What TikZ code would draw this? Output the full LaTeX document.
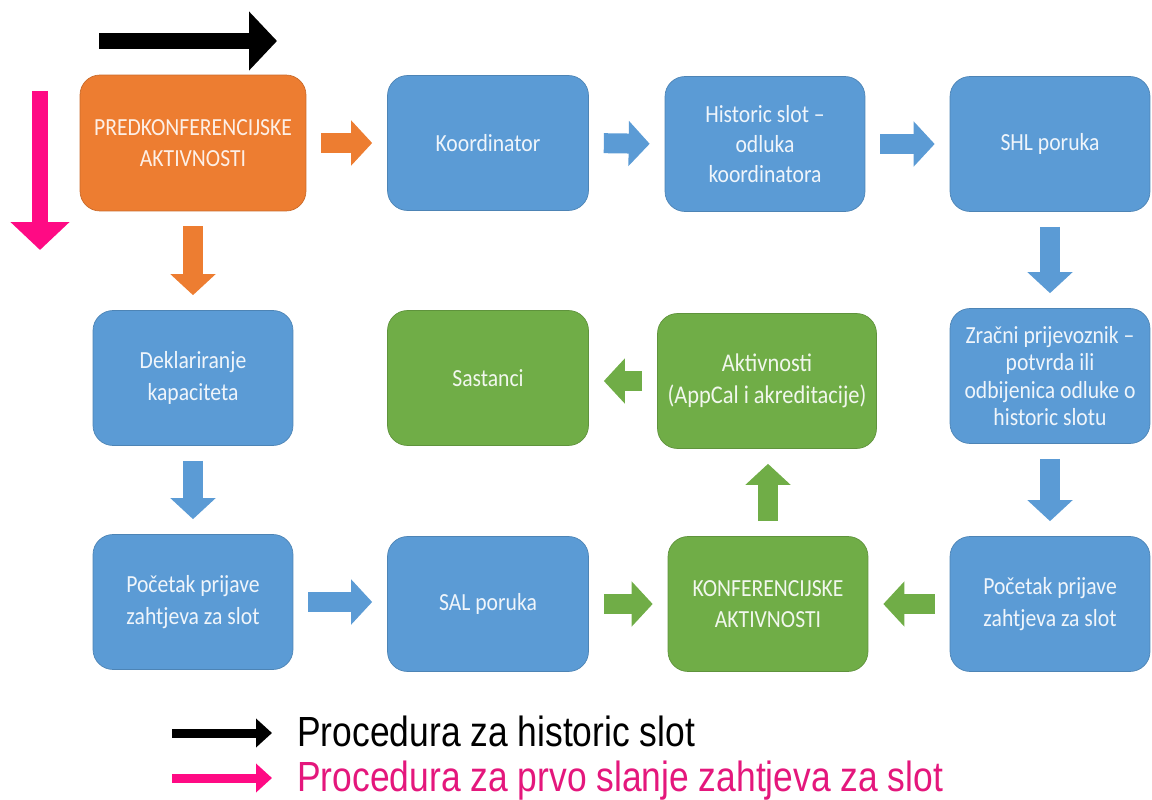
\documentclass[tikz,border=0pt]{standalone}
\usepackage{fontspec}
\setmainfont{Liberation Sans}
\newfontfamily\boxfont[FakeStretch=0.88]{Carlito}
\newfontfamily\legfont[FakeStretch=0.84]{Liberation Sans}
\usetikzlibrary{arrows.meta}
\definecolor{bblue}{HTML}{5B9BD5}
\definecolor{borange}{HTML}{ED7D31}
\definecolor{bgreen}{HTML}{70AD47}
\definecolor{hpink}{HTML}{FF0A84}
\definecolor{tpink}{HTML}{E4177C}
\begin{document}
\begin{tikzpicture}[x=0.02cm,y=-0.02cm,
  procbox/.style={rounded corners=0.4cm, minimum width=4cm, minimum height=2.7cm,
    inner sep=0pt, align=center, line width=0.4pt,
    font=\boxfont\fontsize{14}{18}\selectfont},
  bluebox/.style={procbox, fill=bblue, draw=bblue!85!black, text=white!90!bblue},
  orangebox/.style={procbox, fill=borange, draw=borange!85!black, text=white!88!borange},
  greenbox/.style={procbox, fill=bgreen, draw=bgreen!85!black, text=white!90!bgreen},
  blockarrow/.style={line width=0.4cm, shorten <=0.3cm, shorten >=0.3cm,
    -{Triangle[width=0.88cm,length=0.42cm]}},
  bigarrow/.style={line width=0.32cm, -{Triangle[width=1.15cm,length=0.56cm]}},
  legarrow/.style={line width=0.18cm, shorten >=0.5cm, -{Triangle[width=0.56cm,length=0.32cm]}},
  legtext/.style={anchor=base west, inner sep=0pt, font=\legfont\fontsize{24}{28}\selectfont}
]
\useasboundingbox (0,0) rectangle (1152,800);

% row 1
\node[orangebox, minimum width=4.52cm, minimum height=2.72cm] (pre) at (193,143)
  {PREDKONFERENCIJSKE\\AKTIVNOSTI};
\node[bluebox, minimum width=4.02cm] (koord) at (488,143) {Koordinator};
\node[bluebox, font=\boxfont\fontsize{14}{17}\selectfont] (hist) at (765,144) {Historic slot –\\odluka\\koordinatora};
\node[bluebox] (shl) at (1050,144) {SHL poruka};
% row 2
\node[bluebox] (dek) at (193,378) {Deklariranje\\kapaciteta};
\node[greenbox, minimum width=4.02cm] (sas) at (488,378) {Sastanci};
\node[greenbox, minimum width=4.38cm, font=\boxfont\fontsize{14.5}{18}\selectfont] (akt) at (767,381) {Aktivnosti\\(AppCal i akreditacije)};
\node[bluebox, font=\boxfont\fontsize{14}{15.5}\selectfont] (zr) at (1050,376)
  {Zračni prijevoznik –\\potvrda ili\\odbijenica odluke o\\historic slotu};
% row 3
\node[bluebox] (poc1) at (193,602) {Početak prijave\\zahtjeva za slot};
\node[bluebox, minimum width=4.02cm] (sal) at (488,604) {SAL poruka};
\node[greenbox] (konf) at (768,604) {KONFERENCIJSKE\\AKTIVNOSTI};
\node[bluebox] (poc2) at (1050,604) {Početak prijave\\zahtjeva za slot};

% connectors
\draw[blockarrow, borange] (pre.east) -- (koord.west);
\draw[blockarrow, borange] (pre.south) -- (dek.north);
\draw[blockarrow, bblue] (koord.east) -- (hist.west);
\draw[blockarrow, bblue] (hist.east) -- (shl.west);
\draw[blockarrow, bblue] (shl.south) -- (zr.north);
\draw[blockarrow, bblue] (zr.south) -- (poc2.north);
\draw[blockarrow, bblue] (dek.south) -- (poc1.north);
\draw[blockarrow, bblue] (poc1.east) -- (poc1.east -| sal.west);
\draw[blockarrow, bgreen] (sal.east) -- (konf.west);
\draw[blockarrow, bgreen] (poc2.west) -- (konf.east);
\draw[blockarrow, bgreen] (konf.north) -- (konf.north |- akt.south);
\draw[blockarrow, bgreen] (akt.west) -- (akt.west -| sas.east);

% big procedure arrows
\coordinate (hs) at (99,41);
\coordinate (he) at (277,41);
\draw[bigarrow, black] (hs) -- (he);
\coordinate (ps) at (40,91);
\coordinate (pe) at (40,250);
\draw[bigarrow, hpink] (ps) -- (pe);

% legend
\node[legtext, text=black] (lg1) at (297,746) {Procedura za historic slot};
\node[legtext, text=tpink] (lg2) at (297,791) {Procedura za prvo slanje zahtjeva za slot};
\coordinate (l1) at (172,733);
\coordinate (l2) at (172,778);
\draw[legarrow, black] (l1) -- (l1 -| lg1.west);
\draw[legarrow, hpink] (l2) -- (l2 -| lg2.west);
\end{tikzpicture}
\end{document}
